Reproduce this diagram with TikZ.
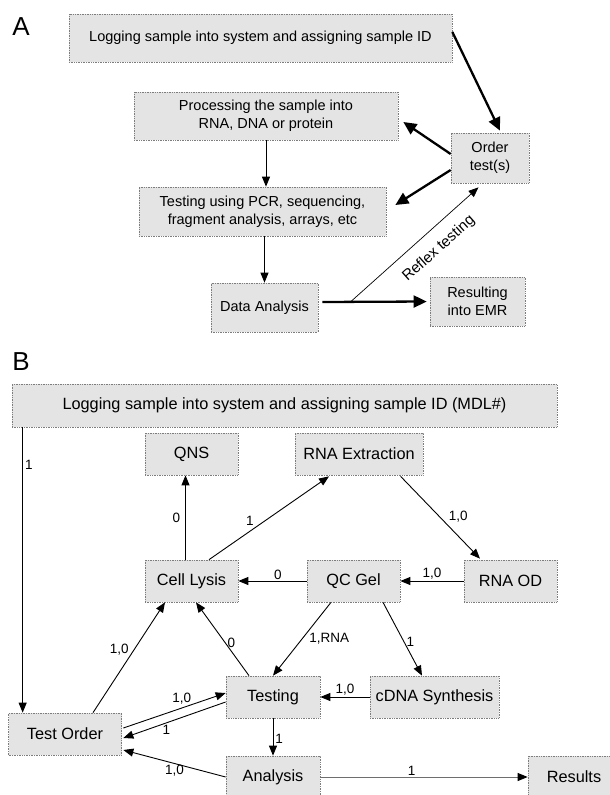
\documentclass[tikz,border=0pt]{standalone}
\usepackage{fontspec}
\setmainfont{Liberation Sans}
\usepackage{tikz}
\usetikzlibrary{positioning, arrows.meta, calc}
\definecolor{boxgray}{RGB}{228, 228, 228}
\definecolor{dotgray}{RGB}{125, 125, 125}
\definecolor{linegray}{RGB}{110, 110, 110}

\begin{document}
\begin{tikzpicture}[x=1pt, y=-1pt,
  box/.style={draw=dotgray, densely dotted, line width=0.7pt, fill=boxgray, align=center, inner sep=0pt},
  boxA/.style={box, font=\fontsize{14.5}{18}\selectfont},
  boxB/.style={box, font=\fontsize{16.3}{19}\selectfont, minimum height=42pt},
  flow/.style={-{Triangle[length=10pt,width=8pt]}, line width=0.9pt},
  bigflow/.style={-{Triangle[length=13pt,width=12pt]}, line width=2.3pt},
  lbl/.style={font=\fontsize{13.5}{16}\selectfont, inner sep=1pt},
  panel/.style={font=\fontsize{26}{30}\selectfont}]

\useasboundingbox[fill=white] (0,0) rectangle (610,795);

% panel A
\node[panel] (pA) at (21,27) {A};
\node[boxA, minimum width=383pt, minimum height=48pt] (logA) at (260.5,38) {Logging sample into system and assigning sample ID};
\node[boxA, minimum width=264pt, minimum height=48pt] (proc) at (266,116) {Processing the sample into\\RNA, DNA or protein};
\node[boxA, minimum width=78pt, minimum height=50pt] (ord) at (490,158) {Order\\test(s)};
\node[boxA, minimum width=247pt, minimum height=49pt] (tst) at (262.5,211.5) {Testing using PCR, sequencing,\\fragment analysis, arrays, etc};
\node[boxA, minimum width=107pt, minimum height=49pt] (da) at (264.5,307.5) {Data Analysis};
\node[boxA, minimum width=95pt, minimum height=49pt] (res) at (477.5,301.5) {Resulting\\into EMR};

\draw[bigflow] ($(logA.east)+(0,-6)$) -- ($(ord.north)+(10,-2)$);
\draw[bigflow] ($(ord.west)+(0,-4)$) -- ($(proc.east)+(5,6)$);
\draw[bigflow] ($(ord.west)+(0,12)$) -- ($(tst.east)+(9,-6.5)$);
\draw[flow] (proc.south) -- (proc.south |- tst.north);
\draw[flow] (da.north |- tst.south) -- (da.north);
\draw[bigflow] ($(da.east)+(4,-5.5)$) -- coordinate[pos=0.27] (rfx) ($(res.west)+(-3,0)$);
\draw[flow, line width=0.7pt] (rfx) -- node[pos=0.59, below=11pt, sloped, inner sep=1pt, font=\fontsize{15}{18}\selectfont] {Reflex testing} ($(ord.south)+(-11.5,4)$);

% panel B
\node[panel] (pB) at (21,362) {B};
\node[boxB, minimum width=545pt, minimum height=43pt] (logB) at (284.5,405.5) {Logging sample into system and assigning sample ID (MDL\#)};
\node[boxB, minimum width=93pt] (qns) at (191.5,454) {QNS};
\node[boxB, minimum width=128pt] (rnax) at (359,454) {RNA Extraction};
\node[boxB, minimum width=93pt] (lys) at (191.5,581) {Cell Lysis};
\node[boxB, minimum width=93pt] (qc) at (353.5,581) {QC Gel};
\node[boxB, minimum width=93pt] (od) at (510.5,581) {RNA OD};
\node[boxB, minimum width=94pt] (testing) at (273,697) {Testing};
\node[boxB, minimum width=129pt] (cdna) at (434.5,697) {cDNA Synthesis};
\node[boxB, minimum width=113pt] (tord) at (65,734) {Test Order};
\node[boxB, minimum width=94pt] (ana) at (273,777) {Analysis};
\node[boxB, minimum width=92pt] (rslt) at (574,777) {Results};

\draw[flow] ($(logB.south west)+(11,0)$) coordinate (logft) -- node[lbl, pos=0.13, right=1pt] {1} (logft |- tord.north);
\draw[flow] ($(lys.north)+(-6,0)$) -- node[lbl, midway, left=4pt] {0} ($(qns.south)+(-6,0)$);
\draw[flow] ($(lys.north)+(17.5,0)$) -- node[lbl, pos=0.39, above left=1pt] {1} ($(rnax.south)+(-30,1)$);
\draw[flow] ($(rnax.south)+(41.6,1)$) -- node[lbl, pos=0.58, above right=1pt] {1,0} ($(od.north)+(-30.5,-1)$);
\draw[flow] (qc.west) -- node[lbl, pos=0.42, above] {0} (lys.east);
\draw[flow] (od.west) -- node[lbl, midway, above] {1,0} (qc.east);
\draw[flow] ($(qc.south)+(-22.5,0)$) -- node[lbl, pos=0.4, below right=0pt] {1,RNA} (testing.north);
\draw[flow] ($(qc.south)+(29.5,0)$) -- node[lbl, pos=0.54, right=1pt] {1} ($(cdna.north)+(-12.5,0)$);
\draw[flow] ($(testing.north)+(-24,0)$) -- node[lbl, pos=0.45, right=1pt] {0} ($(lys.south)+(4.5,0)$);
\draw[flow] ($(tord.north)+(28,0)$) -- node[lbl, pos=0.57, left=4pt] {1,0} ($(lys.south)+(-26.5,0)$);
\draw[flow] (cdna.west) -- node[lbl, midway, above] {1,0} (testing.east);
\draw[flow] ($(tord.east)+(1.5,-6)$) -- node[lbl, pos=0.57, above=2pt] {1,0} ($(testing.west)+(0,-4)$);
\draw[flow] ($(testing.west)+(0,5)$) -- node[lbl, pos=0.58, below=1pt] {1} ($(tord.east)+(1.5,4)$);
\draw[flow] (testing.south) -- node[lbl, pos=0.55, right=1pt] {1} (ana.north);
\draw[flow] (ana.west) -- node[lbl, midway, below] {1,0} ($(tord.east)+(1.5,16)$);
\draw[-{Triangle[length=10pt,width=8pt,black]}, line width=0.9pt, draw=linegray] (ana.east) -- node[lbl, pos=0.44, above] {1} (rslt.west);
\end{tikzpicture}
\end{document}
